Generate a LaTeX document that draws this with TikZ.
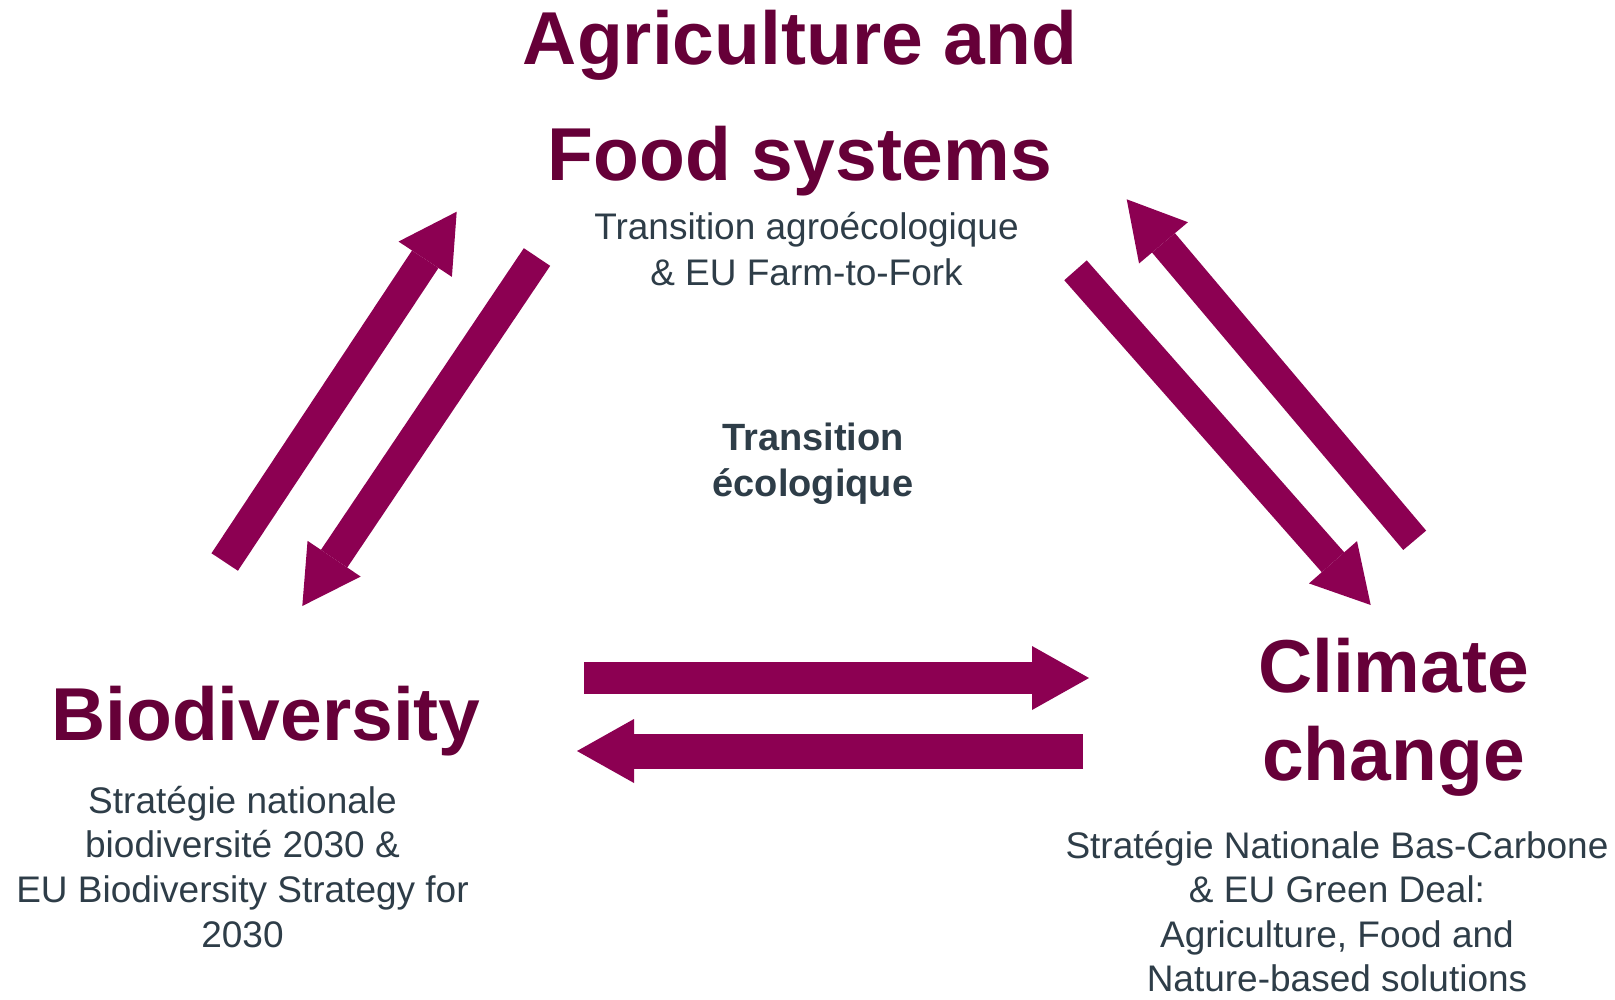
\documentclass[tikz,border=0pt]{standalone}
\usepackage{fontspec}
\setmainfont{Liberation Sans}
\usepackage{xcolor}
\usepackage{tikz}
\usetikzlibrary{arrows.meta}

\definecolor{titlered}{HTML}{660038}
\definecolor{arrowred}{HTML}{8C0052}
\definecolor{textgrey}{HTML}{2E3D48}

\begin{document}
\begin{tikzpicture}[x=1pt, y=-1pt, inner sep=0pt, anchor=base, align=center,
  title/.style={text=titlered, font=\bfseries\fontsize{75}{#1}\selectfont},
  sub/.style={text=textgrey, font=\fontsize{37}{#1}\selectfont},
  bigarrow/.style={draw=arrowred, line width=#1, -{Triangle[length=57pt, width=64pt, line width=0pt]}},
  bigarrow/.default=31pt]
\useasboundingbox (0,0) rectangle (1615,999);

% nodes sit on the baseline of their last line
\node [title=116] (agri) at (800,180) {Agriculture and\\Food systems};
\node [sub=45.7] (agrisub) at (806.5,285) {Transition agroécologique\\\& EU Farm-to-Fork};
\node [title=90] (bio) at (266,740) {Biodiversity};
\node [sub=44.7] (biosub) at (242.5,947.3) {Stratégie nationale\\biodiversité 2030 \&\\EU Biodiversity Strategy for\\2030};
\node [title=88] (clim) at (1393.5,780) {Climate\\change};
\node [sub=44.5] (climsub) at (1337,991.7) {Stratégie Nationale Bas-Carbone\\\& EU Green Deal:\\Agriculture, Food and\\Nature-based solutions};
\node [sub=46.7, font=\bfseries\fontsize{38}{46.7}\selectfont] (eco) at (813,496.7) {Transition\\écologique};

% arrow ends
\coordinate (ab1) at (224.7,562);
\coordinate (ab2) at (456.7,211.7);
\coordinate (ba1) at (537,257);
\coordinate (ba2) at (302.3,606);
\coordinate (bc1) at (584,678);
\coordinate (bc2) at (1089,678);
\coordinate (cb1) at (1083,751);
\coordinate (cb2) at (577,751);
\coordinate (ac1) at (1075.5,270.3);
\coordinate (ac2) at (1370.7,605);
\coordinate (ca1) at (1414.7,540.3);
\coordinate (ca2) at (1126.7,199.3);

\draw [bigarrow=31.7pt] (ab1) -- (ab2);
\draw [bigarrow=31.7pt] (ba1) -- (ba2);
\draw [bigarrow=32pt] (bc1) -- (bc2);
\draw [bigarrow=35pt] (cb1) -- (cb2);
\draw [bigarrow=30pt] (ac1) -- (ac2);
\draw [bigarrow=30pt] (ca1) -- (ca2);

\end{tikzpicture}
\end{document}
